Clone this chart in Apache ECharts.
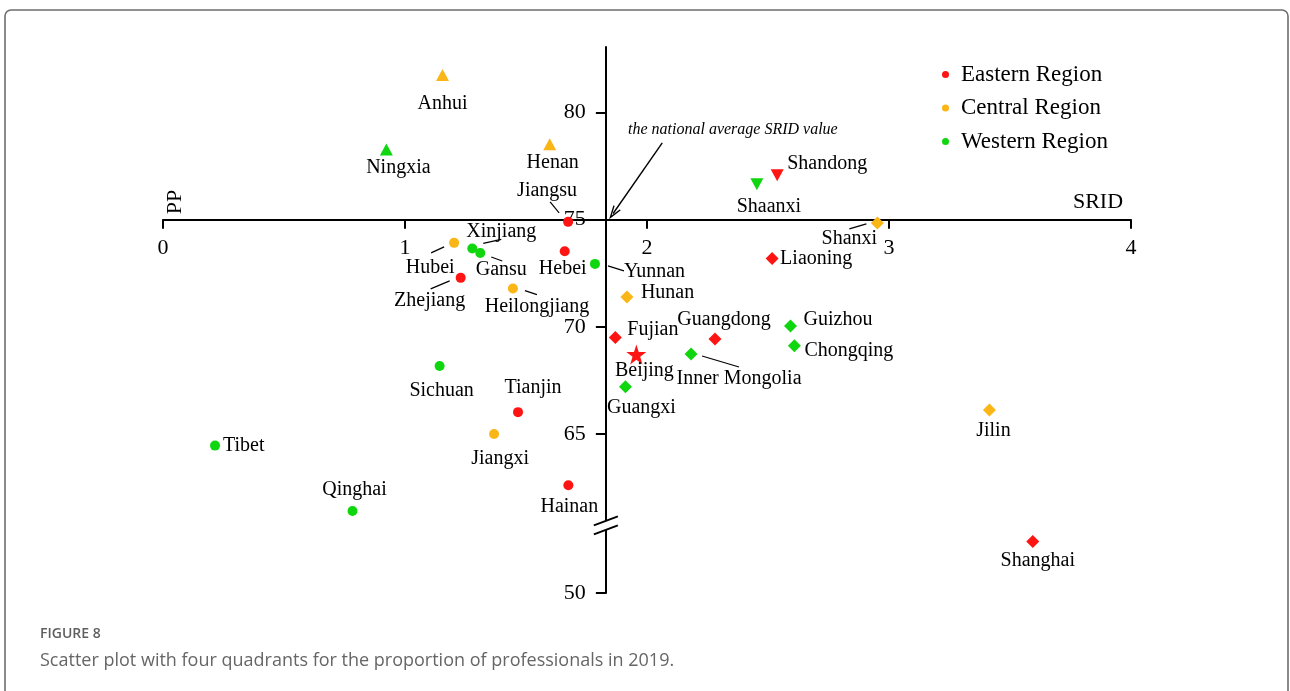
<!DOCTYPE html>
<html>
<head>
  <meta charset="utf-8" />
  <script src="https://cdn.jsdelivr.net/npm/echarts@6/dist/echarts.min.js"></script>
</head>
<body style="margin:0;background:#fff;">
  <div id="main" style="width:1290px;height:691px;"></div>
  <script type="text/javascript">
    // ---- data (SRID, PP) ----
    var AVG_SRID = 1.83;   // national average SRID (vertical axis)
    var PP_CROSS = 75;     // horizontal axis crosses here

    var eastNames = ['Beijing', 'Tianjin', 'Hebei', 'Liaoning', 'Shanghai', 'Jiangsu', 'Zhejiang', 'Fujian', 'Shandong', 'Guangdong', 'Hainan'];
    var eastSRID  = [1.956, 1.467, 1.660, 2.517, 3.594, 1.674, 1.230, 1.869, 2.538, 2.281, 1.675];
    var eastPP    = [68.72, 66.03, 73.53, 73.19, 52.40, 74.90, 72.29, 69.51, 77.07, 69.44, 62.62];

    var centralNames = ['Shanxi', 'Jilin', 'Heilongjiang', 'Anhui', 'Jiangxi', 'Henan', 'Hubei', 'Hunan'];
    var centralSRID  = [2.952, 3.415, 1.446, 1.155, 1.368, 1.598, 1.203, 1.917];
    var centralPP    = [74.85, 66.13, 71.79, 81.74, 65.01, 78.52, 73.92, 71.40];

    var westNames = ['Inner Mongolia', 'Guangxi', 'Chongqing', 'Sichuan', 'Guizhou', 'Yunnan', 'Tibet', 'Shaanxi', 'Gansu', 'Qinghai', 'Ningxia', 'Xinjiang'];
    var westSRID  = [2.182, 1.911, 2.609, 1.143, 2.593, 1.785, 0.215, 2.454, 1.311, 0.783, 0.923, 1.278];
    var westPP    = [68.74, 67.21, 69.12, 68.18, 70.05, 72.94, 64.47, 76.65, 73.45, 61.42, 78.27, 73.66];

    var xTicks = [0, 1, 2, 3, 4];
    var yTicks = [50, 65, 70, 75, 80];

    // broken y axis: values at or below BREAK_LO are shifted up
    var BREAK_LO = 53.25, BREAK_SHIFT = 7.6;
    function toAxis(v) { return v <= BREAK_LO ? v + BREAK_SHIFT : v; }
    function fromAxis(t) { return t <= BREAK_LO + BREAK_SHIFT ? t - BREAK_SHIFT : t; }
    var Y_MIN = toAxis(50), Y_MAX = 83.05;

    var SERIF = '"Liberation Serif", "Times New Roman", serif';
    var INK = '#000';
    var COLORS = { east: '#FF1414', central: '#FAB516', west: '#10D610' };

    var STAR = 'path://M50,0 L61.2,34.5 L97.6,34.5 L68.2,55.9 L79.4,90.5 L50,69.1 L20.6,90.5 L31.8,55.9 L2.4,34.5 L38.8,34.5 Z';
    var SHAPES = {
      circle:  { symbol: 'circle', size: 10 },
      up:      { symbol: 'triangle', size: [13, 12] },
      down:    { symbol: 'triangle', size: [13, 12], rotate: 180 },
      diamond: { symbol: 'diamond', size: [13, 13] },
      star:    { symbol: STAR, size: 20 }
    };
    function quadrantShape(x, y) {
      if (y >= PP_CROSS) return x >= AVG_SRID ? 'down' : 'up';
      return x >= AVG_SRID ? 'diamond' : 'circle';
    }

    // label placement (pixel offsets from the marker) and leader lines
    var LABELS = {
      'Anhui': { off: [0, 29] },
      'Ningxia': { off: [12, 18] },
      'Henan': { off: [3, 19] },
      'Jiangsu': { off: [-21, -31], line: [-18, -20, -9, -9] },
      'Xinjiang': { off: [29, -17], line: [11, -5, 29, -9] },
      'Hubei': { off: [-24, 25], line: [-23, 10, -10, 4] },
      'Gansu': { off: [21, 17], line: [11, 4, 22, 8] },
      'Hebei': { off: [-2, 18] },
      'Yunnan': { off: [29, 8], align: 'left', line: [13, 2, 29, 7] },
      'Shandong': { off: [50, -12] },
      'Shaanxi': { off: [12, 22] },
      'Shanxi': { off: [-28, 16], line: [-28, 6, -11, 1] },
      'Liaoning': { off: [8, 0], align: 'left' },
      'Zhejiang': { off: [-31, 23], line: [-30, 11, -11, 3] },
      'Heilongjiang': { off: [24, 18], line: [12, 2, 24, 6] },
      'Sichuan': { off: [2, 25] },
      'Tianjin': { off: [15, -24] },
      'Jiangxi': { off: [6, 25] },
      'Tibet': { off: [8, 0], align: 'left' },
      'Qinghai': { off: [2, -21] },
      'Hainan': { off: [1, 21] },
      'Beijing': { off: [8, 16] },
      'Fujian': { off: [12, -8], align: 'left' },
      'Guangxi': { off: [16, 21] },
      'Hunan': { off: [14, -4], align: 'left' },
      'Guangdong': { off: [9, -19] },
      'Guizhou': { off: [13, -6], align: 'left' },
      'Chongqing': { off: [10, 5], align: 'left' },
      'Inner Mongolia': { off: [48, 25], line: [11, 2, 48, 13] },
      'Jilin': { off: [4, 21] },
      'Shanghai': { off: [5, 19] }
    };

    function buildItems(names, xs, ys) {
      return names.map(function (n, i) {
        var s = SHAPES[n === 'Beijing' ? 'star' : quadrantShape(xs[i], ys[i])];
        var lay = LABELS[n] || { off: [0, 20] };
        return {
          name: n,
          value: [xs[i], toAxis(ys[i])],
          symbol: s.symbol,
          symbolSize: s.size,
          symbolRotate: s.rotate || 0,
          label: {
            show: true, position: 'inside', formatter: n,
            color: INK, fontFamily: SERIF, fontSize: 20,
            align: lay.align || 'center', verticalAlign: 'middle',
            offset: lay.off
          }
        };
      });
    }

    // leader lines for labels that sit away from their marker
    var leaderData = [], leaderOffsets = [];
    [[eastNames, eastSRID, eastPP], [centralNames, centralSRID, centralPP], [westNames, westSRID, westPP]].forEach(function (g) {
      g[0].forEach(function (n, i) {
        if (LABELS[n] && LABELS[n].line) {
          leaderData.push([g[1][i], toAxis(g[2][i])]);
          leaderOffsets.push(LABELS[n].line);
        }
      });
    });

    var GRID = { left: 163, top: 47, width: 968, height: 546 };

    var scatterBase = {
      type: 'scatter',
      label: { color: INK, fontFamily: SERIF, fontSize: 20 },
      emphasis: { disabled: true },
      z: 3
    };

    var myChart = echarts.init(document.getElementById('main'));
    var option = {
      animation: false,
      backgroundColor: '#fff',
      grid: Object.assign({ outerBoundsMode: 'none', containLabel: false }, GRID),
      legend: {
        orient: 'vertical',
        left: 937, top: 58,
        icon: 'circle',
        itemWidth: 21, itemHeight: 7, itemGap: 10.5,
        textStyle: { fontFamily: SERIF, fontSize: 23, lineHeight: 22, color: INK },
        data: ['Eastern Region', 'Central Region', 'Western Region']
      },
      xAxis: {
        type: 'value', min: xTicks[0], max: xTicks[xTicks.length - 1], interval: 1,
        position: 'bottom',
        offset: -GRID.height * (PP_CROSS - Y_MIN) / (Y_MAX - Y_MIN),
        axisLine: { lineStyle: { color: INK, width: 2 } },
        axisTick: { length: 9, lineStyle: { color: INK, width: 2 } },
        axisLabel: { margin: 18, fontFamily: SERIF, fontSize: 22, color: INK },
        splitLine: { show: false }
      },
      yAxis: {
        type: 'value', min: Y_MIN, max: Y_MAX,
        position: 'left',
        offset: -GRID.width * (AVG_SRID - xTicks[0]) / (xTicks[xTicks.length - 1] - xTicks[0]),
        axisLine: { show: true, lineStyle: { color: INK, width: 2 } },
        axisTick: { show: true, length: 10, lineStyle: { color: INK, width: 2 }, customValues: yTicks.map(toAxis) },
        axisLabel: {
          margin: 20, fontFamily: SERIF, fontSize: 22, color: INK,
          customValues: yTicks.map(toAxis),
          formatter: function (v) { return String(Math.round(fromAxis(v))); }
        },
        splitLine: { show: false }
      },
      graphic: [
        { type: 'rect', shape: { x: 5, y: 10, width: 1283, height: 700, r: 6 }, style: { fill: 'none', stroke: '#6e6e6e', lineWidth: 1.6 }, silent: true },
        { type: 'text', x: 175, y: 202, rotation: Math.PI / 2, style: { text: 'PP', font: '22px ' + SERIF, fill: INK, align: 'center', verticalAlign: 'middle' } },
        { type: 'text', x: 1098, y: 202, style: { text: 'SRID', font: '22px ' + SERIF, fill: INK, align: 'center', verticalAlign: 'middle' } },
        { type: 'text', x: 628, y: 130, style: { text: 'the national average SRID value', font: 'italic 16px ' + SERIF, fill: INK, align: 'left', verticalAlign: 'middle' } },
        { type: 'text', x: 40, y: 634, style: { text: 'FIGURE 8', font: '600 14px "Open Sans", sans-serif', fill: '#5f5f5f', align: 'left', verticalAlign: 'middle' } },
        { type: 'text', x: 40, y: 661, style: { text: 'Scatter plot with four quadrants for the proportion of professionals in 2019.', font: '18px "Open Sans", sans-serif', fill: '#666', align: 'left', verticalAlign: 'middle' } }
      ],
      series: [
        Object.assign({}, scatterBase, { name: 'Eastern Region', itemStyle: { color: COLORS.east, opacity: 1 }, data: buildItems(eastNames, eastSRID, eastPP) }),
        Object.assign({}, scatterBase, { name: 'Central Region', itemStyle: { color: COLORS.central, opacity: 1 }, data: buildItems(centralNames, centralSRID, centralPP) }),
        Object.assign({}, scatterBase, { name: 'Western Region', itemStyle: { color: COLORS.west, opacity: 1 }, data: buildItems(westNames, westSRID, westPP) }),
        {
          // leader lines + national average arrow
          type: 'custom',
          silent: true,
          z: 2,
          data: leaderData,
          renderItem: function (params, api) {
            var p = api.coord([api.value(0), api.value(1)]);
            var o = leaderOffsets[params.dataIndex];
            return {
              type: 'line',
              shape: { x1: p[0] + o[0], y1: p[1] + o[1], x2: p[0] + o[2], y2: p[1] + o[3] },
              style: { stroke: INK, lineWidth: 1.2 }
            };
          },
          markLine: {
            silent: true,
            animation: false,
            symbol: ['none', 'path://M5,0 L10,12 L8.4,12 L5,3.8 L1.6,12 L0,12 Z'],
            symbolSize: [9, 14],
            label: { show: false },
            lineStyle: { color: INK, width: 1.4, type: 'solid' },
            data: [[{ coord: [2.063, 78.58] }, { coord: [1.86, 75.29] }]]
          }
        },
        {
          // axis break marks on the vertical axis
          type: 'custom',
          silent: true,
          z: 4,
          data: [[AVG_SRID, BREAK_LO + BREAK_SHIFT - 0.1]],
          renderItem: function (params, api) {
            var p = api.coord([api.value(0), api.value(1)]);
            return {
              type: 'group',
              children: [
                { type: 'rect', shape: { x: p[0] - 4, y: p[1] - 4.5, width: 8, height: 9 }, style: { fill: '#fff' } },
                { type: 'line', shape: { x1: p[0] - 12, y1: p[1], x2: p[0] + 12, y2: p[1] - 9 }, style: { stroke: INK, lineWidth: 2 } },
                { type: 'line', shape: { x1: p[0] - 12, y1: p[1] + 9, x2: p[0] + 12, y2: p[1] }, style: { stroke: INK, lineWidth: 2 } }
              ]
            };
          }
        }
      ]
    };
    myChart.setOption(option);
  </script>
</body>
</html>
